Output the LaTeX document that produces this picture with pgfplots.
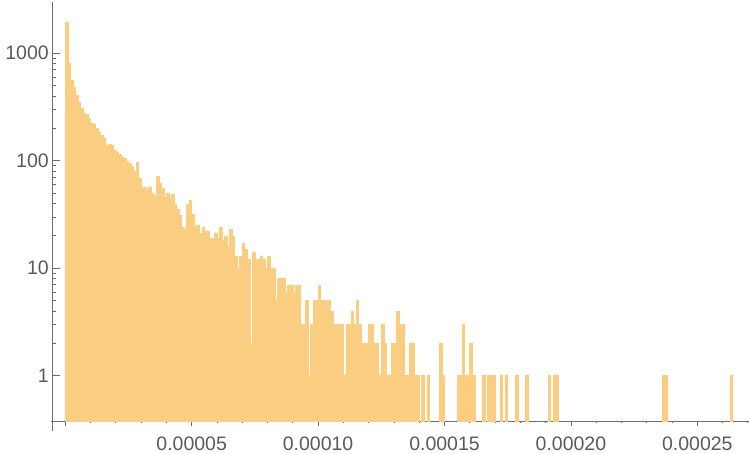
\documentclass[border=0pt]{standalone}
\usepackage{fontspec}
\setmainfont{Liberation Sans}
\usepackage{pgfplots}
\pgfplotsset{compat=1.18}
\definecolor{barcol}{RGB}{250,205,128}
\definecolor{axiscol}{RGB}{110,110,110}
\definecolor{labcol}{RGB}{90,90,90}
\begin{document}
\begin{tikzpicture}[x=1bp,y=1bp]
\useasboundingbox (0,0) rectangle (750,454);
\begin{axis}[
  at={(52.3bp,32.7bp)}, anchor=south west,
  scale only axis, width=696.7bp, height=419.6bp,
  ymode=log, log origin=infty,
  xmin=-5.14, xmax=270.45, ymin=0.377, ymax=3013,
  axis lines*=left,
  axis line style={draw=axiscol, line width=0.8bp},
  tick style={draw=axiscol, line width=0.8bp},
  tick align=inside,
  major tick length=7.7bp, minor tick length=3.7bp,
  xtick={0,50,100,150,200,250},
  xticklabels={,0.00005,0.00010,0.00015,0.00020,0.00025},
  minor xtick={10,20,30,40,60,70,80,90,110,120,130,140,160,170,180,190,210,220,230,240,260,270},
  xtick style={/pgfplots/major tick length=4.5bp, /pgfplots/minor tick length=2.2bp},
  ytick={1,10,100,1000},
  yticklabels={1,10,100,1000},
  /pgf/number format/assume math mode=true,
  ticklabel style={font=\fontsize{19.5bp}{23bp}\selectfont, text=labcol},
  xticklabel style={yshift=-4bp},
  ybar, bar width=1, bar shift=0,
  clip=true,
]
\addplot[fill=barcol, draw=barcol, line width=0.6bp] coordinates {
(0.5,1950)(1.5,810)(2.5,563)(3.5,485)(4.5,410)(5.5,350)(6.5,307)(7.5,276)(8.5,268)(9.5,250)
(10.5,223)(11.5,217)(12.5,201)(13.5,185)(14.5,172)(15.5,162)(16.5,138)(17.5,142)(18.5,140)(19.5,125)
(20.5,121)(21.5,115)(22.5,108)(23.5,106)(24.5,98)(25.5,95)(26.5,88)(27.5,80)(28.5,96)(29.5,69)
(30.5,55)(31.5,56)(32.5,53)(33.5,57)(34.5,50)(35.5,48)(36.5,72)(37.5,62)(38.5,55)(39.5,46)
(40.5,50)(41.5,45)(42.5,49)(43.5,39)(44.5,35)(45.5,31)(46.5,24)(47.5,23)(48.5,39)(49.5,43)
(50.5,32)(51.5,24)(52.5,25)(53.5,21)(54.5,24)(55.5,22)(56.5,22)(57.5,19)(58.5,19)(59.5,21)
(60.5,19)(61.5,24)(62.5,18)(63.5,20)(64.5,16)(65.5,23)(66.5,20)(67.5,13)(68.5,10)(69.5,13)
(70.5,17)(71.5,15)(72.5,12)(73.5,2)(74.5,14)(75.5,12)(76.5,12)(77.5,13)(78.5,12)(79.5,10)
(80.5,13)(81.5,10)(82.5,10)(83.5,5)(84.5,8)(85.5,8)(86.5,8)(87.5,6)(88.5,7)(89.5,7)
(90.5,6)(91.5,7)(92.5,7)(93.5,3)(94.5,3)(95.5,5)(96.5,1)(97.5,3)(98.5,5)(99.5,5)
(100.5,7)(101.5,5)(102.5,5)(103.5,5)(104.5,5)(105.5,4)(106.5,3)(107.5,3)(108.5,3)(109.5,3)
(110.5,1)(111.5,3)(112.5,3)(113.5,4)(114.5,3)(115.5,5)(116.5,3)(117.5,2)(118.5,2)(119.5,2)
(120.5,3)(121.5,3)(122.5,2)(123.5,2)(124.5,1)(125.5,3)(126.5,2)(127.5,1)(128.5,1)(129.5,2)
(130.5,2)(131.5,4)(132.5,3)(133.5,3)(134.5,1)(135.5,1)(136.5,2)(137.5,2)(138.5,1)(139.5,1)
(141.5,1)(143.5,1)(148.5,2)(149.5,1)
(155.5,1)(156.5,1)(157.5,3)(158.5,1)(159.5,1)(160.5,2)(161.5,1)
(165.5,1)(167.5,1)(168.5,1)(169.5,1)(172.5,1)(174.5,1)(178.5,1)(182.5,1)
(191.5,1)(193.5,1)(194.5,1)(236.5,1)(237.5,1)(263.5,1)
};
\end{axis}
\draw[axiscol, line width=0.8bp] (52.3,23) -- (52.3,32.7);
\draw[axiscol, line width=0.8bp] (50.7,32.7) -- (52.3,32.7);
\end{tikzpicture}
\end{document}
